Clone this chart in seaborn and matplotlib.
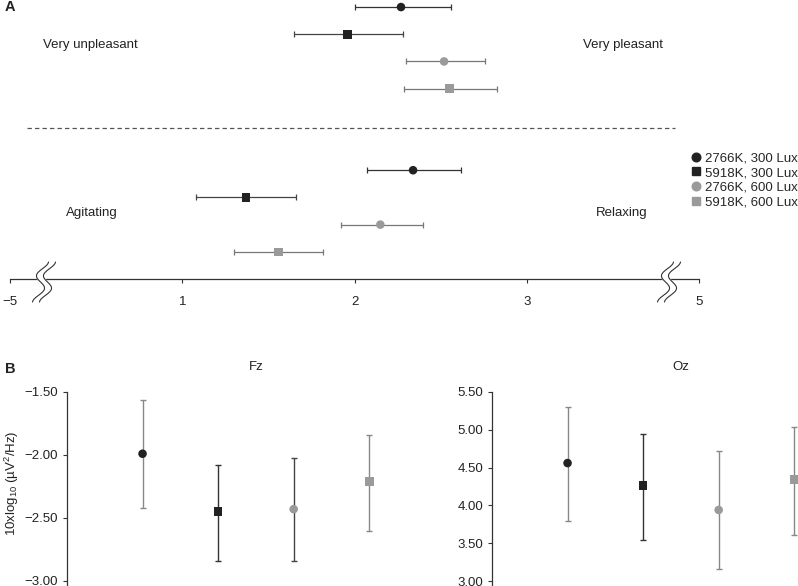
import numpy as np
import pandas as pd
import matplotlib
matplotlib.use("Agg")
import matplotlib.pyplot as plt
import seaborn as sns
from matplotlib.lines import Line2D

conditions = ["2766K, 300 Lux", "5918K, 300 Lux", "2766K, 600 Lux", "5918K, 600 Lux"]

# panel A: ratings (upper group = pleasantness, lower group = relaxation)
pleasant_mean = [2.27, 1.96, 2.52, 2.55]
pleasant_lo = [2.00, 1.65, 2.30, 2.29]
pleasant_hi = [2.56, 2.28, 2.76, 2.83]
relax_mean = [2.34, 1.37, 2.15, 1.56]
relax_lo = [2.07, 1.08, 1.92, 1.30]
relax_hi = [2.62, 1.66, 2.40, 1.82]
a_ticks = [0, 1, 2, 3, 4]
a_ticklabels = ["\u22125", "1", "2", "3", "5"]

# panel B: EEG power
fz_mean = [-1.99, -2.45, -2.43, -2.21]
fz_lo = [-2.42, -2.84, -2.84, -2.60]
fz_hi = [-1.565, -2.08, -2.02, -1.84]
oz_mean = [4.56, 4.26, 3.94, 4.34]
oz_lo = [3.79, 3.54, 3.16, 3.61]
oz_hi = [5.30, 4.94, 4.72, 5.04]
fz_ticks = [-3.0, -2.5, -2.0, -1.5]
oz_ticks = [3.0, 3.5, 4.0, 4.5, 5.0, 5.5]

markers = {c: m for c, m in zip(conditions, ["o", "s", "o", "s"])}
palette = {c: col for c, col in zip(conditions, ["#222222", "#222222", "#9a9a9a", "#9a9a9a"])}
bar_a = ["#333333", "#444444", "#777777", "#777777"]
bar_fz = ["#888888", "#333333", "#444444", "#888888"]
bar_oz = ["#888888", "#333333", "#888888", "#888888"]

sns.set_style("white")
plt.rcParams["font.family"] = ["Liberation Sans", "DejaVu Sans"]
plt.rcParams["mathtext.fontset"] = "custom"
plt.rcParams["mathtext.rm"] = "Liberation Sans"
plt.rcParams["mathtext.it"] = "Liberation Sans:italic"
FS = 9.5
W, H = 798, 586

fig = plt.figure(figsize=(W / 100, H / 100), dpi=100)

# ---------- panel A ----------
axA = fig.add_axes([10 / W, 1 - 279 / H, 689 / W, 279 / H])
rows = pd.DataFrame({
    "condition": conditions * 2,
    "mean": pleasant_mean + relax_mean,
    "lo": pleasant_lo + relax_lo,
    "hi": pleasant_hi + relax_hi,
    "row": [0, 1, 2, 3, 6, 7, 8, 9],
})
for i, r in rows.iterrows():
    axA.errorbar(r["mean"], r["row"], xerr=[[r["mean"] - r["lo"]], [r["hi"] - r["mean"]]],
                 fmt="none", ecolor=bar_a[i % 4], elinewidth=0.9, capsize=1.9, capthick=0.9, zorder=2)
sns.scatterplot(data=rows, x="mean", y="row", hue="condition", style="condition",
                palette=palette, markers=markers, s=38, linewidth=0, legend=False, ax=axA, zorder=3)
axA.set_xlim(0, 4)
axA.set_ylim(10, -0.26)
axA.set_xticks(a_ticks)
axA.set_xticklabels(a_ticklabels, fontsize=FS, color="#222222")
axA.set_yticks([])
axA.set_xlabel("")
axA.set_ylabel("")
for s in ["top", "right", "left"]:
    axA.spines[s].set_visible(False)
axA.spines["bottom"].set_color("#333333")
axA.spines["bottom"].set_linewidth(0.9)
axA.tick_params(axis="x", direction="out", length=3, width=0.8, color="#333333", pad=9, bottom=True)

axA.hlines(4.45, 0.099, 3.861, colors="#555555", linewidth=0.9, linestyles=(0, (3.5, 2.5)))
axA.text(0.464, 1.4, "Very unpleasant", fontsize=FS, ha="center", va="center", color="#222222")
axA.text(3.559, 1.4, "Very pleasant", fontsize=FS, ha="center", va="center", color="#222222")
axA.text(0.476, 7.57, "Agitating", fontsize=FS, ha="center", va="center", color="#222222")
axA.text(3.553, 7.57, "Relaxing", fontsize=FS, ha="center", va="center", color="#222222")

# axis break marks
t = np.linspace(0, 1, 60)
for xc in [44, 669]:
    ys = 262 + 40 * t
    xs = xc + 5 * np.cos(3 * np.pi * t) + 6 * (0.5 - t)
    x1 = (xs - 3.5) / W
    x2 = (xs + 3.5) / W
    yf = 1 - ys / H
    axA.fill_betweenx(yf, x1, x2, color="white", transform=fig.transFigure, clip_on=False, zorder=5)
    axA.plot(x1, yf, color="#333333", lw=0.8, transform=fig.transFigure, clip_on=False, zorder=6)
    axA.plot(x2, yf, color="#333333", lw=0.8, transform=fig.transFigure, clip_on=False, zorder=6)

handles = [Line2D([], [], marker=markers[c], color=palette[c], linestyle="none", markersize=6.2)
           for c in conditions]
axA.legend(handles, conditions, loc="upper left", bbox_to_anchor=(691 / W, 1 - 152 / H),
           bbox_transform=fig.transFigure, frameon=False, fontsize=FS, handlelength=0.7,
           handletextpad=0.35, labelspacing=0.2, borderpad=0, borderaxespad=0)

fig.text(5 / W, 1 - 7 / H, "A", fontsize=10.5, fontweight="bold", va="center", ha="left", color="#222222")
fig.text(5 / W, 1 - 369 / H, "B", fontsize=10.5, fontweight="bold", va="center", ha="left", color="#222222")


# ---------- panel B ----------
def eeg_panel(rect, means, los, his, ylim, ticks, title, bar_colors):
    ax = fig.add_axes(rect)
    df = pd.DataFrame({"condition": conditions, "mean": means, "lo": los, "hi": his,
                       "pos": np.arange(len(conditions))})
    for i, r in df.iterrows():
        ax.errorbar(r["pos"], r["mean"], yerr=[[r["mean"] - r["lo"]], [r["hi"] - r["mean"]]],
                    fmt="none", ecolor=bar_colors[i], elinewidth=1.0, capsize=2.3, capthick=1.0, zorder=2)
    sns.scatterplot(data=df, x="pos", y="mean", hue="condition", style="condition",
                    palette=palette, markers=markers, s=38, linewidth=0, legend=False, ax=ax, zorder=3)
    ax.set_xlim(-1, 3.5)
    ax.set_ylim(*ylim)
    ax.set_xticks([])
    ax.set_yticks(ticks)
    ax.set_yticklabels([f"{v:.2f}".replace("-", "\u2212") for v in ticks], fontsize=FS, color="#222222")
    ax.set_xlabel("")
    ax.set_ylabel("")
    for s in ["top", "right", "bottom"]:
        ax.spines[s].set_visible(False)
    ax.spines["left"].set_color("#333333")
    ax.spines["left"].set_linewidth(0.9)
    ax.tick_params(axis="y", direction="out", length=3, width=0.8, color="#333333", pad=3.5, left=True)
    ax.text(1.5, 1 + 25 / 194, title, fontsize=FS, ha="center", va="center", color="#222222",
            transform=ax.get_xaxis_transform())
    return ax


eeg_panel([67 / W, 0, 340 / W, 194 / H], fz_mean, fz_lo, fz_hi, (-3.04, -1.5), fz_ticks, "Fz", bar_fz)
eeg_panel([492 / W, 0, 340 / W, 194 / H], oz_mean, oz_lo, oz_hi, (2.934, 5.5), oz_ticks, "Oz", bar_oz)

fig.text(12 / W, 1 - 483 / H, "10xlog$_{10}$ (\u00b5V$^{2}$/Hz)", rotation=90, fontsize=FS,
         ha="center", va="center", color="#222222")

fig.savefig("out.png", dpi=100)
